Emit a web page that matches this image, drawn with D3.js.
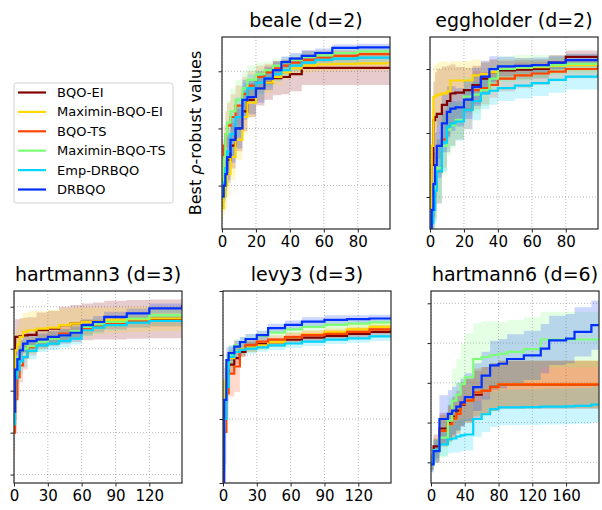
<!DOCTYPE html>
<html>
<head>
<meta charset="utf-8">
<script src="https://cdn.jsdelivr.net/npm/d3@7"></script>
<style>
body { margin: 0; background: #fff; }
text { font-family: "DejaVu Sans", sans-serif; }
</style>
</head>
<body>
<div id="chart"></div>
<script>
// methods, in drawing order
var methods = ["BQO-EI", "Maximin-BQO-EI", "BQO-TS", "Maximin-BQO-TS", "Emp-DRBQO", "DRBQO"];
var colors = ["#800000", "#ffd700", "#ff4500", "#7dff7a", "#00d4ff", "#0030ff"];

// ---- beale (d=2)
var bealeX = [0, 1, 2, 3, 5, 8, 12, 15, 20, 25, 30, 35, 40, 47, 55, 65, 80, 99];
var bealeMean = [
    [0.9, 1.1, 1.3, 1.45, 1.7, 2.0, 2.3, 2.5, 2.7, 2.8, 2.88, 2.9, 2.95, 3.06, 3.06, 3.06, 3.06, 3.06],
    [0.6, 0.8, 1.0, 1.2, 1.5, 1.8, 2.2, 2.45, 2.7, 2.8, 2.9, 2.98, 3.05, 3.1, 3.12, 3.13, 3.14, 3.15],
    [1.5, 1.7, 1.9, 2.05, 2.2, 2.4, 2.6, 2.75, 2.9, 2.98, 3.05, 3.1, 3.15, 3.2, 3.24, 3.27, 3.3, 3.31],
    [0.9, 1.5, 1.9, 2.1, 2.3, 2.5, 2.7, 2.85, 2.95, 3.02, 3.1, 3.15, 3.2, 3.25, 3.28, 3.32, 3.35, 3.37],
    [0.8, 1.05, 1.3, 1.6, 1.9, 2.2, 2.5, 2.7, 2.8, 2.88, 2.95, 3.02, 3.1, 3.15, 3.2, 3.22, 3.24, 3.26],
    [0.81, 1.0, 1.2, 1.5, 1.8, 2.0, 2.5, 2.55, 2.7, 2.87, 3.02, 3.16, 3.22, 3.27, 3.32, 3.41, 3.42, 3.42]
];
var bealeBand = [
    [0.3, 0.35, 0.4, 0.4, 0.4, 0.4, 0.35, 0.3, 0.3, 0.3, 0.3, 0.3, 0.3, 0.3, 0.3, 0.3, 0.3, 0.3],
    [0.2, 0.3, 0.4, 0.4, 0.4, 0.35, 0.3, 0.25, 0.2, 0.18, 0.15, 0.12, 0.12, 0.12, 0.12, 0.12, 0.12, 0.12],
    [0.3, 0.35, 0.4, 0.4, 0.4, 0.35, 0.3, 0.25, 0.2, 0.15, 0.12, 0.1, 0.1, 0.1, 0.08, 0.08, 0.08, 0.08],
    [0.2, 0.3, 0.4, 0.4, 0.4, 0.35, 0.3, 0.25, 0.2, 0.15, 0.12, 0.1, 0.1, 0.1, 0.08, 0.08, 0.08, 0.08],
    [0.2, 0.3, 0.4, 0.4, 0.4, 0.35, 0.3, 0.25, 0.2, 0.15, 0.12, 0.1, 0.1, 0.1, 0.08, 0.08, 0.08, 0.08],
    [0.2, 0.3, 0.4, 0.4, 0.4, 0.35, 0.35, 0.3, 0.25, 0.2, 0.15, 0.1, 0.1, 0.1, 0.08, 0.06, 0.06, 0.06]
];

// ---- eggholder (d=2)
var eggX = [0, 1, 2, 3, 4, 7, 10, 12, 15, 20, 25, 30, 35, 40, 50, 60, 70, 80, 99];
var eggMean = [
    [0.5, 1.5, 2.2, 2.25, 2.3, 2.44, 2.5, 2.62, 2.63, 2.67, 2.75, 2.85, 2.95, 2.98, 2.99, 3.0, 3.1, 3.19, 3.2],
    [0.5, 1.8, 2.56, 2.58, 2.6, 2.62, 2.65, 2.82, 2.82, 2.82, 2.9, 2.92, 2.95, 3.0, 3.02, 3.03, 3.05, 3.06, 3.09],
    [0.5, 0.7, 0.9, 1.15, 1.4, 1.9, 2.1, 2.15, 2.2, 2.36, 2.67, 2.7, 2.75, 2.85, 2.9, 2.93, 2.96, 3.0, 3.09],
    [0.5, 0.75, 1.0, 1.25, 1.45, 1.8, 2.05, 2.12, 2.2, 2.57, 2.6, 2.67, 2.85, 3.0, 3.02, 3.04, 3.06, 3.08, 3.11],
    [0.5, 0.6, 0.8, 1.1, 1.4, 1.85, 2.1, 2.15, 2.18, 2.36, 2.5, 2.62, 2.66, 2.7, 2.74, 2.78, 2.83, 2.88, 2.92],
    [0.5, 0.8, 1.2, 1.5, 1.8, 2.15, 2.33, 2.38, 2.4, 2.52, 2.72, 2.88, 3.0, 3.04, 3.05, 3.06, 3.1, 3.14, 3.18]
];
var eggBand = [
    [0.3, 0.5, 0.6, 0.7, 0.7, 0.6, 0.55, 0.45, 0.4, 0.35, 0.3, 0.25, 0.2, 0.15, 0.15, 0.15, 0.12, 0.1, 0.1],
    [0.3, 0.45, 0.5, 0.5, 0.5, 0.5, 0.45, 0.3, 0.3, 0.3, 0.25, 0.2, 0.2, 0.15, 0.15, 0.12, 0.12, 0.1, 0.1],
    [0.2, 0.35, 0.5, 0.5, 0.5, 0.45, 0.4, 0.35, 0.3, 0.3, 0.3, 0.25, 0.2, 0.2, 0.2, 0.18, 0.15, 0.15, 0.15],
    [0.2, 0.35, 0.5, 0.5, 0.5, 0.45, 0.4, 0.35, 0.3, 0.3, 0.3, 0.25, 0.2, 0.2, 0.2, 0.18, 0.15, 0.15, 0.15],
    [0.2, 0.35, 0.5, 0.5, 0.5, 0.45, 0.4, 0.35, 0.3, 0.3, 0.3, 0.25, 0.22, 0.2, 0.2, 0.2, 0.2, 0.2, 0.2],
    [0.2, 0.35, 0.5, 0.5, 0.5, 0.45, 0.4, 0.35, 0.3, 0.3, 0.3, 0.25, 0.2, 0.15, 0.12, 0.12, 0.1, 0.1, 0.1]
];

// ---- hartmann3 (d=3)
var h3X = [0, 1, 3, 5, 8, 12, 20, 30, 40, 50, 60, 70, 80, 100, 120, 149];
var h3Mean = [
    [2.0, 3.28, 3.28, 3.3, 3.32, 3.33, 3.44, 3.48, 3.56, 3.6, 3.64, 3.66, 3.68, 3.7, 3.71, 3.72],
    [1.5, 2.96, 3.1, 3.28, 3.4, 3.44, 3.48, 3.5, 3.56, 3.6, 3.64, 3.66, 3.68, 3.7, 3.72, 3.72],
    [1.0, 1.8, 2.32, 2.6, 2.8, 3.04, 3.16, 3.25, 3.36, 3.42, 3.48, 3.55, 3.6, 3.64, 3.66, 3.68],
    [1.6, 2.4, 2.8, 2.96, 3.0, 3.06, 3.16, 3.24, 3.32, 3.42, 3.52, 3.58, 3.64, 3.72, 3.8, 3.84],
    [1.2, 2.3, 2.5, 2.7, 2.8, 2.95, 3.08, 3.12, 3.18, 3.24, 3.44, 3.5, 3.56, 3.62, 3.66, 3.68],
    [1.5, 2.5, 2.75, 2.96, 3.12, 3.18, 3.22, 3.28, 3.32, 3.38, 3.56, 3.64, 3.76, 3.84, 3.96, 4.04]
];
var h3Band = [
    [0.4, 0.42, 0.42, 0.42, 0.42, 0.42, 0.42, 0.42, 0.44, 0.44, 0.44, 0.44, 0.46, 0.46, 0.46, 0.46],
    [0.4, 0.45, 0.45, 0.45, 0.45, 0.45, 0.42, 0.42, 0.4, 0.38, 0.35, 0.32, 0.3, 0.3, 0.3, 0.3],
    [0.5, 0.5, 0.45, 0.4, 0.3, 0.2, 0.18, 0.16, 0.15, 0.15, 0.14, 0.14, 0.13, 0.13, 0.13, 0.13],
    [0.5, 0.45, 0.35, 0.25, 0.2, 0.18, 0.16, 0.15, 0.15, 0.14, 0.14, 0.13, 0.12, 0.12, 0.12, 0.12],
    [0.5, 0.45, 0.35, 0.3, 0.25, 0.2, 0.16, 0.15, 0.15, 0.14, 0.14, 0.13, 0.12, 0.12, 0.12, 0.12],
    [0.5, 0.45, 0.35, 0.25, 0.2, 0.18, 0.16, 0.15, 0.15, 0.15, 0.14, 0.14, 0.12, 0.12, 0.12, 0.12]
];

// ---- levy3 (d=3)
var levyX = [0, 1, 3, 5, 10, 15, 20, 30, 40, 55, 70, 90, 110, 130, 149];
var levyMean = [
    [1.0, 1.5, 1.7, 1.85, 1.95, 2.05, 2.13, 2.17, 2.2, 2.24, 2.27, 2.3, 2.33, 2.36, 2.39],
    [1.2, 1.6, 1.85, 1.95, 2.06, 2.1, 2.12, 2.15, 2.2, 2.28, 2.32, 2.36, 2.4, 2.44, 2.47],
    [-0.05, 0.8, 1.4, 1.71, 1.82, 2.08, 2.16, 2.21, 2.24, 2.28, 2.31, 2.33, 2.36, 2.4, 2.42],
    [0.3, 1.3, 1.8, 2.0, 2.15, 2.2, 2.25, 2.3, 2.35, 2.4, 2.44, 2.47, 2.49, 2.51, 2.52],
    [0.2, 1.0, 1.5, 1.97, 2.05, 2.08, 2.1, 2.12, 2.15, 2.18, 2.21, 2.24, 2.26, 2.29, 2.31],
    [0.0, 1.3, 1.92, 2.03, 2.13, 2.2, 2.25, 2.31, 2.42, 2.47, 2.52, 2.55, 2.56, 2.57, 2.57]
];
var levyBand = [
    [0.4, 0.3, 0.2, 0.15, 0.1, 0.08, 0.08, 0.07, 0.07, 0.07, 0.07, 0.07, 0.07, 0.07, 0.07],
    [0.4, 0.3, 0.2, 0.15, 0.1, 0.08, 0.08, 0.07, 0.07, 0.07, 0.07, 0.07, 0.07, 0.07, 0.07],
    [0.3, 0.5, 0.4, 0.36, 0.4, 0.1, 0.08, 0.07, 0.07, 0.07, 0.07, 0.07, 0.07, 0.07, 0.07],
    [0.4, 0.3, 0.2, 0.15, 0.1, 0.08, 0.08, 0.07, 0.07, 0.07, 0.07, 0.07, 0.07, 0.07, 0.07],
    [0.4, 0.3, 0.25, 0.15, 0.1, 0.08, 0.08, 0.07, 0.07, 0.07, 0.07, 0.07, 0.07, 0.07, 0.07],
    [0.3, 0.3, 0.2, 0.12, 0.1, 0.08, 0.08, 0.07, 0.07, 0.07, 0.07, 0.07, 0.06, 0.06, 0.06]
];

// ---- hartmann6 (d=6)
var h6X = [0, 3, 10, 20, 25, 30, 35, 40, 50, 60, 70, 80, 90, 110, 130, 140, 160, 170, 190, 199];
var h6Mean = [
    [0.0, 0.4, 0.85, 1.0, 1.15, 1.3, 1.45, 1.55, 1.7, 1.8, 1.9, 1.95, 1.95, 1.95, 1.95, 1.95, 1.95, 1.95, 1.95, 1.95],
    [0.0, 0.3, 0.79, 0.96, 1.1, 1.22, 1.47, 1.55, 1.76, 1.8, 1.89, 1.96, 1.96, 1.96, 1.96, 1.96, 1.96, 1.96, 1.96, 1.96],
    [0.0, 0.3, 0.79, 0.96, 1.1, 1.22, 1.47, 1.55, 1.76, 1.8, 1.89, 1.96, 1.96, 1.96, 1.96, 1.96, 1.96, 1.96, 1.96, 1.96],
    [-0.05, 0.3, 0.62, 1.05, 1.55, 1.7, 1.97, 2.14, 2.6, 2.65, 2.7, 2.73, 2.78, 2.85, 3.09, 3.09, 3.09, 3.09, 3.09, 3.09],
    [0.0, 0.3, 0.45, 0.58, 0.6, 0.65, 0.68, 0.7, 1.09, 1.21, 1.34, 1.38, 1.38, 1.39, 1.4, 1.4, 1.41, 1.42, 1.45, 1.45],
    [-0.05, 0.28, 1.09, 1.22, 1.3, 1.4, 1.51, 1.64, 1.89, 2.18, 2.44, 2.48, 2.6, 2.69, 2.86, 3.07, 3.11, 3.28, 3.45, 3.45]
];
var h6Band = [
    [0.2, 0.3, 0.4, 0.45, 0.5, 0.5, 0.55, 0.55, 0.6, 0.6, 0.6, 0.6, 0.6, 0.6, 0.6, 0.6, 0.6, 0.6, 0.6, 0.6],
    [0.2, 0.3, 0.4, 0.45, 0.5, 0.5, 0.55, 0.55, 0.6, 0.6, 0.6, 0.6, 0.6, 0.6, 0.6, 0.6, 0.6, 0.6, 0.6, 0.6],
    [0.2, 0.3, 0.4, 0.45, 0.5, 0.5, 0.55, 0.55, 0.6, 0.6, 0.6, 0.6, 0.6, 0.6, 0.6, 0.6, 0.6, 0.6, 0.6, 0.6],
    [0.2, 0.3, 0.5, 0.6, 0.8, 0.9, 1.0, 1.1, 0.9, 0.9, 0.85, 0.8, 0.8, 0.8, 0.7, 0.7, 0.7, 0.7, 0.7, 0.7],
    [0.2, 0.25, 0.3, 0.35, 0.35, 0.4, 0.4, 0.4, 0.45, 0.45, 0.45, 0.45, 0.45, 0.45, 0.45, 0.45, 0.45, 0.45, 0.45, 0.45],
    [0.2, 0.3, 0.6, 0.6, 0.6, 0.6, 0.6, 0.6, 0.6, 0.6, 0.62, 0.62, 0.62, 0.62, 0.62, 0.62, 0.62, 0.62, 0.62, 0.62]
];

var panels = [
    {title: "beale (d=2)", xs: bealeX, mean: bealeMean, band: bealeBand,
     left: 222, top: 37, xDomain: [0, 99], xTicks: [0, 20, 40, 60, 80], yDomain: [0.24, 3.6], yTicks: [1, 2, 3]},
    {title: "eggholder (d=2)", xs: eggX, mean: eggMean, band: eggBand,
     left: 430, top: 37, xDomain: [0, 99], xTicks: [0, 20, 40, 60, 80], yDomain: [0.5, 3.5], yTicks: [1, 2, 3]},
    {title: "hartmann3 (d=3)", xs: h3X, mean: h3Mean, band: h3Band,
     left: 14, top: 291, xDomain: [0, 149], xTicks: [0, 30, 60, 90, 120], yDomain: [-0.2, 4.375], yTicks: [0, 1, 2, 3, 4]},
    {title: "levy3 (d=3)", xs: levyX, mean: levyMean, band: levyBand,
     left: 223, top: 291, xDomain: [0, 149], xTicks: [0, 30, 60, 90, 120], yDomain: [0, 3], yTicks: [0, 1, 2, 3]},
    {title: "hartmann6 (d=6)", xs: h6X, mean: h6Mean, band: h6Band,
     left: 431, top: 291, xDomain: [0, 199], xTicks: [0, 40, 80, 120, 160], yDomain: [-0.52, 4.31], yTicks: [0, 1, 2, 3, 4]}
];

var W = 602, H = 510, pw = 168, ph = 192;

var svg = d3.select("#chart").append("svg")
    .attr("width", W)
    .attr("height", H);

panels.forEach(function(p, pi) {
    var g = svg.append("g")
        .attr("transform", "translate(" + p.left + "," + p.top + ")");

    var x = d3.scaleLinear().domain(p.xDomain).range([0, pw]);
    var y = d3.scaleLinear().domain(p.yDomain).range([ph, 0]);

    // clip to axes box
    svg.append("clipPath").attr("id", "clip" + pi)
        .append("rect").attr("width", pw).attr("height", ph);

    // grid
    g.selectAll("line.gx").data(p.xTicks).enter().append("line")
        .attr("class", "gx")
        .attr("x1", function(d) { return x(d); })
        .attr("x2", function(d) { return x(d); })
        .attr("y1", 0).attr("y2", ph);
    g.selectAll("line.gy").data(p.yTicks).enter().append("line")
        .attr("class", "gy")
        .attr("y1", function(d) { return y(d); })
        .attr("y2", function(d) { return y(d); })
        .attr("x1", 0).attr("x2", pw);
    g.selectAll("line.gx, line.gy")
        .style("stroke", "#b0b0b0")
        .style("stroke-width", 0.9)
        .style("stroke-dasharray", "1,2");

    var plot = g.append("g").attr("clip-path", "url(#clip" + pi + ")");

    // shaded bands
    methods.forEach(function(m, k) {
        var area = d3.area()
            .curve(d3.curveStepAfter)
            .x(function(d, i) { return x(p.xs[i]); })
            .y0(function(d, i) { return y(d - p.band[k][i]); })
            .y1(function(d, i) { return y(d + p.band[k][i]); });
        plot.append("path")
            .attr("d", area(p.mean[k]))
            .style("fill", colors[k])
            .style("opacity", 0.2);
    });

    // mean lines
    methods.forEach(function(m, k) {
        var line = d3.line()
            .curve(d3.curveStepAfter)
            .x(function(d, i) { return x(p.xs[i]); })
            .y(function(d) { return y(d); });
        plot.append("path")
            .attr("d", line(p.mean[k]))
            .style("fill", "none")
            .style("stroke", colors[k])
            .style("stroke-width", 2.2);
    });

    // axes
    var xAxis = g.append("g")
        .attr("transform", "translate(0," + ph + ")")
        .call(d3.axisBottom(x).tickValues(p.xTicks).tickSize(3.5).tickPadding(4));
    var yAxis = g.append("g")
        .call(d3.axisLeft(y).tickValues(p.yTicks).tickSize(3.5).tickFormat(""));
    [xAxis, yAxis].forEach(function(a) {
        a.select(".domain").remove();
        a.selectAll("line").style("stroke", "#222").style("stroke-width", 1);
        a.selectAll("text")
            .style("font-family", "'DejaVu Sans', sans-serif")
            .style("font-size", "15px")
            .style("fill", "#000");
    });

    // frame
    g.append("rect")
        .attr("width", pw).attr("height", ph)
        .style("fill", "none")
        .style("stroke", "#333")
        .style("stroke-width", 1.25);

    // title
    g.append("text")
        .attr("x", pw / 2)
        .attr("y", -10)
        .attr("text-anchor", "middle")
        .style("font-size", "19px")
        .text(p.title);
});

// y label on the beale panel
var ylab = svg.append("text")
    .attr("transform", "translate(201,133) rotate(-90)")
    .attr("text-anchor", "middle")
    .style("font-size", "16px");
ylab.append("tspan").text("Best ");
ylab.append("tspan").style("font-style", "italic").text("\u03c1");
ylab.append("tspan").text("-robust values");

// legend
var legend = svg.append("g").attr("transform", "translate(14,83)");
legend.append("rect")
    .attr("width", 159).attr("height", 120)
    .attr("rx", 2.5)
    .style("fill", "#fff")
    .style("stroke", "#d0d0d0")
    .style("stroke-width", 1);
var items = legend.selectAll("g.item").data(methods).enter().append("g")
    .attr("class", "item")
    .attr("transform", function(d, i) { return "translate(0," + (9.5 + i * 19.4) + ")"; });
items.append("line")
    .attr("x1", 4).attr("x2", 32)
    .style("stroke", function(d, i) { return colors[i]; })
    .style("stroke-width", 2.2);
items.append("text")
    .attr("x", 43)
    .attr("dy", "0.35em")
    .style("font-size", "13px")
    .text(function(d) { return d; });
</script>
</body>
</html>
